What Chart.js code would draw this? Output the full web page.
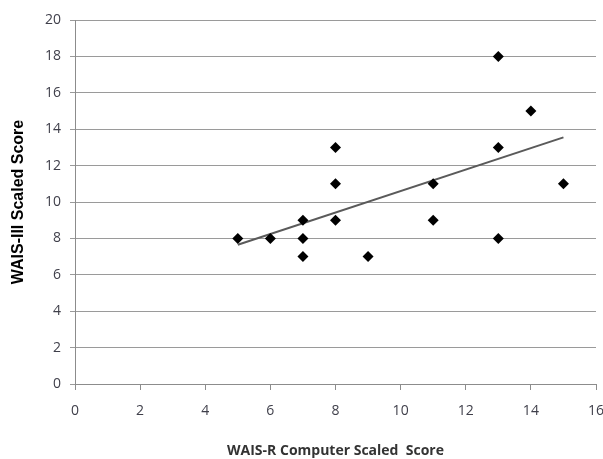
<!DOCTYPE html>
<html>
<head>
<meta charset="utf-8">
<script src="https://cdn.jsdelivr.net/npm/chart.js@4/dist/chart.umd.min.js"></script>
<style>
  html, body { margin: 0; padding: 0; background: #fff; }
  #wrap { width: 603px; height: 459px; position: relative; }
</style>
</head>
<body>
<div id="wrap"><canvas id="c" width="603" height="459"></canvas></div>
<script>
// Data
const waisR = [5, 6, 7, 7, 7, 8, 8, 8, 9, 11, 11, 13, 13, 13, 14, 15];
const waisIII = [8, 8, 9, 8, 7, 13, 11, 9, 7, 11, 9, 18, 13, 8, 15, 11];
const trendX = [5, 15];
const trendY = [7.65, 13.55];
const xTicks = [0, 2, 4, 6, 8, 10, 12, 14, 16];
const yTicks = [0, 2, 4, 6, 8, 10, 12, 14, 16, 18, 20];

const points = waisR.map((x, i) => ({ x: x, y: waisIII[i] }));
const trend = trendX.map((x, i) => ({ x: x, y: trendY[i] }));

const tickFont = { family: "'Open Sans', 'Liberation Sans', sans-serif", size: 14 };

new Chart(document.getElementById('c'), {
  type: 'scatter',
  data: {
    datasets: [
      {
        type: 'line',
        data: trend,
        borderColor: '#5a5a5a',
        borderWidth: 2,
        pointRadius: 0,
        fill: false,
        order: 2
      },
      {
        data: points,
        pointStyle: 'rectRot',
        pointRadius: 5.5,
        pointBackgroundColor: '#000',
        pointBorderColor: '#000',
        pointBorderWidth: 0,
        order: 1
      }
    ]
  },
  options: {
    responsive: false,
    animation: false,
    layout: { padding: { left: 0, right: 7, top: 20, bottom: 0 } },
    plugins: { legend: { display: false }, tooltip: { enabled: false } },
    scales: {
      x: {
        type: 'linear',
        min: 0, max: 16,
        afterBuildTicks: (s) => { s.ticks = xTicks.map(v => ({ value: v })); },
        afterFit: (s) => { s.height = 75; s.paddingRight = 0; s.paddingLeft = 0; },
        grid: {
          display: true,
          drawOnChartArea: false,
          drawTicks: true,
          tickLength: 6,
          color: '#8c8c8c'
        },
        border: { display: true, color: '#8c8c8c', width: 1 },
        ticks: { font: tickFont, color: '#3f3f4a', padding: 13, maxRotation: 0 },
        title: {
          display: true,
          text: 'WAIS-R Computer Scaled  Score',
          font: { family: "'Open Sans', 'Liberation Sans', sans-serif", size: 14, weight: 'bold' },
          color: '#333',
          padding: { top: 10, bottom: 0 }
        }
      },
      y: {
        type: 'linear',
        min: 0, max: 20,
        afterBuildTicks: (s) => { s.ticks = yTicks.map(v => ({ value: v })); },
        afterFit: (s) => { s.width = 75; s.paddingTop = 0; s.paddingBottom = 0; },
        grid: {
          display: true,
          drawOnChartArea: true,
          drawTicks: true,
          tickLength: 5,
          color: '#9a9a9a'
        },
        border: { display: true, color: '#8c8c8c', width: 1 },
        ticks: { font: tickFont, color: '#3f3f4a', padding: 9 },
        title: {
          display: true,
          text: 'WAIS-III Scaled Score',
          font: { family: "'Liberation Sans', Arial, sans-serif", size: 16, weight: 'bold' },
          color: '#000',
          padding: { top: 9, bottom: 0 }
        }
      }
    }
  }
});
</script>
</body>
</html>
